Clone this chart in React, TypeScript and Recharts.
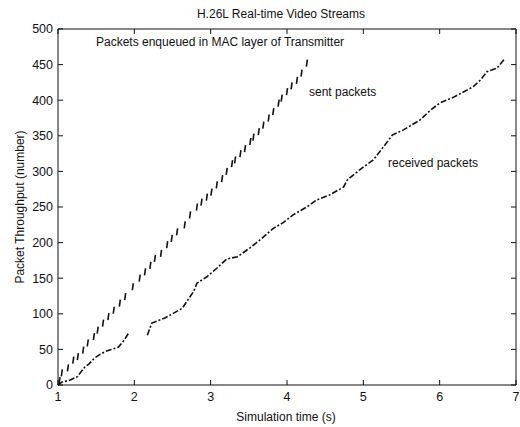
import React from 'react';
import { ComposedChart, Line, Scatter, XAxis, YAxis } from 'recharts';

const title = 'H.26L Real-time Video Streams';
const xLabel = 'Simulation time (s)';
const yLabel = 'Packet Throughput (number)';
const xTicks = [1, 2, 3, 4, 5, 6, 7];
const yTicks = [0, 50, 100, 150, 200, 250, 300, 350, 400, 450, 500];

// sent packets: centres of the short vertical dashes
const sentX = [1.02, 1.05, 1.13, 1.2, 1.26, 1.33, 1.39, 1.47, 1.52, 1.59, 1.66, 1.73, 1.81, 1.88, 1.98, 2.07, 2.14, 2.21, 2.27, 2.35, 2.43, 2.49, 2.56, 2.66, 2.73, 2.82, 2.88, 2.95, 3.01, 3.08, 3.15, 3.21, 3.28, 3.32, 3.39, 3.45, 3.52, 3.56, 3.63, 3.69, 3.76, 3.82, 3.89, 3.93, 4.0, 4.06, 4.13, 4.19, 4.26];
const sentY = [6, 17, 24, 35, 40, 49, 59, 68, 77, 87, 96, 105, 115, 124, 138, 150, 159, 168, 178, 185, 197, 206, 215, 225, 239, 250, 257, 264, 271, 281, 290, 300, 311, 316, 325, 332, 342, 348, 356, 365, 375, 384, 396, 403, 412, 420, 428, 438, 452];

// received packets (null = gap)
const recvX = [1.0, 1.05, 1.16, 1.26, 1.29, 1.35, 1.41, 1.48, 1.55, 1.62, 1.7, 1.79, 1.86, 1.92, 1.94, 2.17, 2.23, 2.3, 2.4, 2.5, 2.63, 2.73, 2.78, 2.82, 2.95, 3.08, 3.21, 3.35, 3.52, 3.65, 3.82, 3.95, 4.08, 4.26, 4.39, 4.56, 4.74, 4.79, 4.96, 5.13, 5.26, 5.38, 5.52, 5.74, 5.88, 6.0, 6.18, 6.44, 6.53, 6.62, 6.75, 6.85];
const recvY: (number | null)[] = [0, 4, 7, 12, 17, 25, 30, 38, 43, 47, 50, 53, 62, 72, null, 70, 87, 90, 94, 100, 108, 124, 132, 143, 152, 164, 177, 180, 193, 204, 220, 228, 239, 250, 260, 267, 278, 288, 303, 316, 334, 351, 358, 372, 386, 396, 404, 419, 428, 440, 445, 458];

const sentData = sentX.map((x, i) => ({ x, y: sentY[i] }));
const recvData = recvX.map((x, i) => ({ x, y: recvY[i] }));

const FONT = '"Liberation Sans", Arial, Helvetica, sans-serif';
const INK = '#111';

const Dash = (props: any) => {
  const { cx, cy } = props;
  if (cx == null || cy == null) return null;
  return <line x1={cx - 0.5} y1={cy + 3.5} x2={cx + 0.5} y2={cy - 3.5} stroke={INK} strokeWidth={1.6} />;
};

export default function App() {
  return (
    <div style={{ position: 'absolute', left: 0, top: 0, width: 520, height: 427, background: '#fff', fontFamily: FONT }}>
      <ComposedChart width={520} height={427} margin={{ top: 28, right: 3, bottom: 0, left: 0 }}>
        <XAxis
          xAxisId="b"
          type="number"
          dataKey="x"
          domain={[1, 7]}
          ticks={xTicks}
          allowDataOverflow
          height={42}
          stroke={INK}
          tickSize={-5}
          tickMargin={12}
          tick={{ fill: INK, fontSize: 12.5, fontFamily: FONT }}
        />
        <XAxis
          xAxisId="t"
          orientation="top"
          type="number"
          dataKey="x"
          domain={[1, 7]}
          ticks={xTicks}
          allowDataOverflow
          height={1}
          stroke={INK}
          tickSize={-5}
          tickFormatter={() => ''}
        />
        <YAxis
          yAxisId="l"
          type="number"
          domain={[0, 500]}
          ticks={yTicks}
          width={58}
          stroke={INK}
          tickSize={-5}
          tickMargin={10}
          tick={{ fill: INK, fontSize: 12.5, fontFamily: FONT }}
        />
        <YAxis
          yAxisId="r"
          orientation="right"
          type="number"
          domain={[0, 500]}
          ticks={yTicks}
          allowDataOverflow
          width={1}
          stroke={INK}
          tickSize={-5}
          tickFormatter={() => ''}
        />
        <Line
          xAxisId="t"
          yAxisId="r"
          data={recvData}
          dataKey="y"
          stroke="none"
          dot={false}
          activeDot={false}
          legendType="none"
          isAnimationActive={false}
        />
        <Line
          xAxisId="b"
          yAxisId="l"
          data={recvData}
          dataKey="y"
          type="linear"
          stroke={INK}
          strokeWidth={1.6}
          strokeDasharray="6 2 2 2"
          dot={false}
          connectNulls={false}
          isAnimationActive={false}
        />
        <Scatter
          xAxisId="b"
          yAxisId="l"
          data={sentData}
          dataKey="y"
          shape={<Dash />}
          isAnimationActive={false}
        />
        <text x={281} y={18} textAnchor="middle" fontSize={12} fontFamily={FONT} fill={INK}>{title}</text>
        <text x={286} y={421} textAnchor="middle" fontSize={12} fontFamily={FONT} fill={INK}>{xLabel}</text>
        <text x={24} y={207} textAnchor="middle" fontSize={12} fontFamily={FONT} fill={INK} transform="rotate(-90 24 207)">{yLabel}</text>
        <text x={96} y={46} fontSize={12} fontFamily={FONT} fill={INK}>Packets enqueued in MAC layer of Transmitter</text>
        <text x={309} y={96} fontSize={12} fontFamily={FONT} fill={INK}>sent packets</text>
        <text x={388} y={167} fontSize={12} fontFamily={FONT} fill={INK}>received packets</text>
      </ComposedChart>
    </div>
  );
}
